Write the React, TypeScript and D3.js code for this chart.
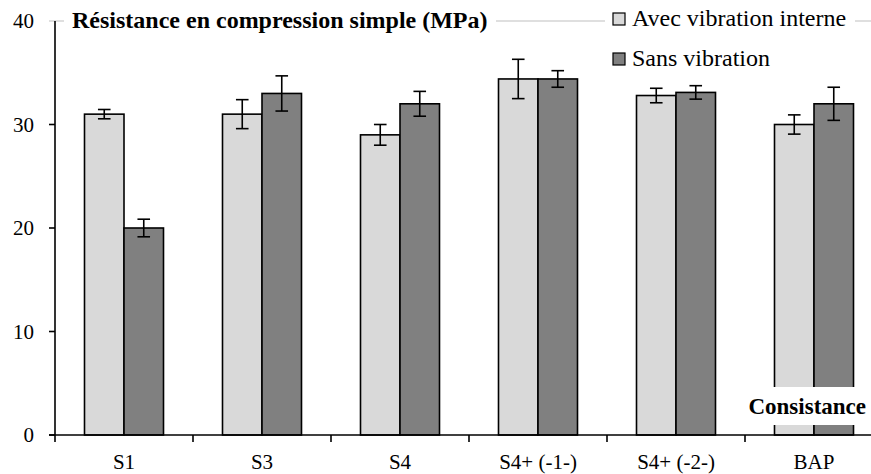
import React from "react";
import * as d3 from "d3";

const categories = ["S1", "S3", "S4", "S4+ (-1-)", "S4+ (-2-)", "BAP"];
const seriesNames = ["Avec vibration interne", "Sans vibration"];
const avecValues = [31.0, 31.0, 29.0, 34.4, 32.8, 30.0];
const avecErrors = [0.45, 1.4, 1.0, 1.9, 0.7, 0.93];
const sansValues = [20.0, 33.0, 32.0, 34.4, 33.1, 32.0];
const sansErrors = [0.85, 1.7, 1.2, 0.8, 0.65, 1.6];
const yTicks = [0, 10, 20, 30, 40];
const colors = ["#d9d9d9", "#808080"];
const titleText = "Résistance en compression simple (MPa)";
const xTitleText = "Consistance";

const W = 871;
const H = 474;
const FONT = "Liberation Serif";

export default function App() {
  const x = d3.scaleBand<string>().domain(categories).range([55, 55 + 6 * 138]).padding(0);
  const inner = d3.scaleBand<string>().domain(seriesNames).range([29.5, 108.5]).padding(0);
  const y = d3.scaleLinear().domain([0, 40]).range([435, 21]);
  const series = [
    { name: seriesNames[0], values: avecValues, errors: avecErrors, color: colors[0] },
    { name: seriesNames[1], values: sansValues, errors: sansErrors, color: colors[1] },
  ];
  const cap = 6.3;
  const tf = { fontFamily: FONT };
  return (
    <div style={{ position: "fixed", left: 0, top: 0, width: W, height: H, background: "#fff" }}>
      <svg width={W} height={H} style={{ display: "block", fontFamily: FONT }}>
        <rect x={0} y={0} width={W} height={H} fill="#fff" />
        <line x1={49} x2={W} y1={y(40)} y2={y(40)} stroke="#d4d4d4" strokeWidth={1.3} />
        {series.map((s) =>
          categories.map((c, i) => {
            const bx = (x(c) as number) + (inner(s.name) as number);
            const bw = inner.bandwidth();
            const v = s.values[i];
            const e = s.errors[i];
            const cx = bx + bw / 2;
            return (
              <g key={s.name + c}>
                <rect x={bx} y={y(v)} width={bw} height={y(0) - y(v)} fill={s.color} stroke="#000" strokeWidth={1.6} />
                <line x1={cx} x2={cx} y1={y(v + e)} y2={y(v - e)} stroke="#000" strokeWidth={1.6} />
                <line x1={cx - cap} x2={cx + cap} y1={y(v + e)} y2={y(v + e)} stroke="#000" strokeWidth={1.6} />
                <line x1={cx - cap} x2={cx + cap} y1={y(v - e)} y2={y(v - e)} stroke="#000" strokeWidth={1.6} />
              </g>
            );
          })
        )}
        <line x1={55} x2={55} y1={y(40)} y2={y(0)} stroke="#000" strokeWidth={1.6} />
        {yTicks.map((t) => (
          <g key={t}>
            {t < 40 && <line x1={49} x2={55} y1={y(t)} y2={y(t)} stroke="#000" strokeWidth={1.6} />}
            <text x={34} y={y(t) + 7} textAnchor="end" fontSize={21} style={tf}>{t}</text>
          </g>
        ))}
        <line x1={49} x2={W} y1={y(0)} y2={y(0)} stroke="#000" strokeWidth={1.6} />
        {categories.map((c) => (
          <g key={c}>
            <line x1={x(c) as number} x2={x(c) as number} y1={y(0)} y2={y(0) + 7} stroke="#000" strokeWidth={1.6} />
            <text x={(x(c) as number) + x.bandwidth() / 2} y={469} textAnchor="middle" fontSize={21} style={tf}>{c}</text>
          </g>
        ))}
        <rect x={64} y={4} width={432} height={34} fill="#fff" />
        <text x={72} y={28} fontSize={24} fontWeight="bold" style={tf}>{titleText}</text>
        <rect x={605} y={4} width={250} height={72} fill="#fff" />
        {series.map((s, i) => (
          <g key={s.name} transform={`translate(613, ${13 + i * 40})`}>
            <rect x={0} y={0} width={12} height={12} fill={s.color} stroke="#000" strokeWidth={1.2} />
            <text x={19} y={13} fontSize={24} style={tf}>{s.name}</text>
          </g>
        ))}
        <rect x={742} y={387} width={129} height={38} fill="#fff" />
        <text x={866} y={414} textAnchor="end" fontSize={23} fontWeight="bold" style={tf}>{xTitleText}</text>
      </svg>
    </div>
  );
}
